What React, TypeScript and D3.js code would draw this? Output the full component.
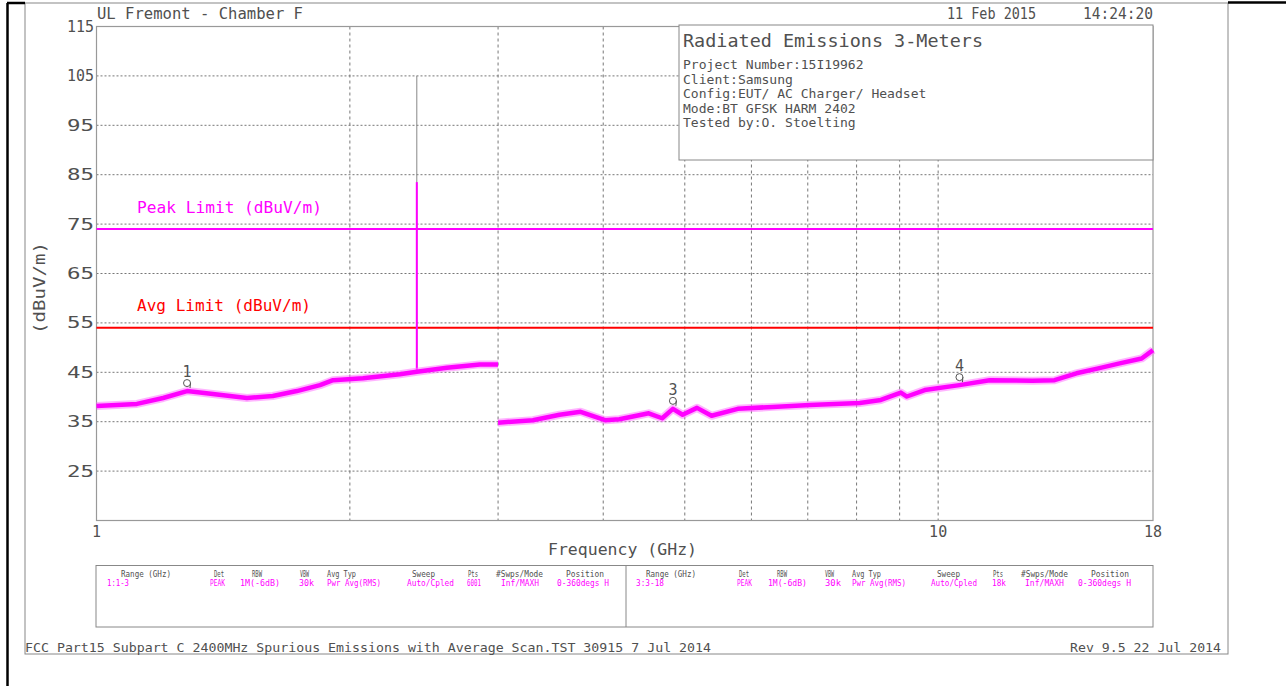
import React from "react";
import * as d3 from "d3";

// ---------- data ----------
const yTicks = [115, 105, 95, 85, 75, 65, 55, 45, 35, 25];
const xGrid = [2, 3, 4, 5, 6, 7, 8, 9, 10];
const xTickLabels = [1, 10, 18];

const band1Freq = [1.0, 1.117, 1.2, 1.281, 1.375, 1.509, 1.62, 1.73, 1.843, 1.91, 2.073, 2.293, 2.402, 2.608, 2.854, 3.0];
const band1Level = [38.2, 38.6, 39.8, 41.2, 40.6, 39.8, 40.2, 41.2, 42.4, 43.4, 43.8, 44.6, 45.1, 45.9, 46.6, 46.6];

const band2Freq = [3.0, 3.3, 3.55, 3.76, 4.02, 4.18, 4.53, 4.7, 4.84, 4.97, 5.17, 5.38, 5.78, 6.36, 7.04, 8.07, 8.55, 9.03, 9.18, 9.64, 10.6, 11.51, 12.95, 13.75, 14.6, 15.5, 16.43, 17.45, 18];
const band2Level = [34.8, 35.3, 36.4, 37.0, 35.3, 35.5, 36.7, 35.7, 37.6, 36.4, 37.8, 36.2, 37.6, 38.0, 38.4, 38.8, 39.4, 40.9, 40.1, 41.4, 42.4, 43.4, 43.3, 43.4, 44.8, 45.8, 46.8, 47.8, 49.5];

const spikeFreq = 2.402;
const spikePeakMagenta = 83.5;
const spikePeakGray = 105;

const peakLimit = 74;
const avgLimit = 54;

const markerIds = ["1", "3", "4"];
const markerFreq = [1.281, 4.84, 10.6];
const markerLevel = [41.2, 37.6, 42.4];

const tableHeaders = ["Range (GHz)", "Det", "RBW", "VBW", "Avg Typ", "Sweep", "Pts", "#Swps/Mode", "Position"];
const tableRow1 = ["1:1-3", "PEAK", "1M(-6dB)", "30k", "Pwr Avg(RMS)", "Auto/Cpled", "6001", "Inf/MAXH", "0-360degs H"];
const tableRow2 = ["3:3-18", "PEAK", "1M(-6dB)", "30k", "Pwr Avg(RMS)", "Auto/Cpled", "18k", "Inf/MAXH", "0-360degs H"];

const infoLines = [
  "Project Number:15I19962",
  "Client:Samsung",
  "Config:EUT/ AC Charger/ Headset",
  "Mode:BT GFSK HARM 2402",
  "Tested by:O. Stoelting",
];

// ---------- layout ----------
const W = 1286;
const H = 686;
const PL = 96.5, PR = 1153, PT = 26.5, PB = 520.5;
const FONT = "'DejaVu Sans Mono', monospace";
const TXT = "#505050";
const MAG = "#ff00ff";

// table column layout (left half absolute x, widths)
const hdrX = [121, 214, 252, 300, 327, 412, 468, 496, 566];
const hdrW = [50, 10, 10, 9, 29, 23, 10, 47, 38];
const valX1 = [107, 210, 240, 299, 327, 407, 467, 501, 557];
const valW1 = [22, 15, 40, 15, 54, 47, 14, 38, 52];
const valX2 = [636, 737, 768, 825, 852, 931, 992, 1025, 1078];
const valW2 = [28, 15, 39, 16, 54, 46, 14, 39, 53];
const HALF_SHIFT = 525;

function T(props: any) {
  const { x, y, w, size = 14, fill = TXT, anchor = "start", children, ...rest } = props;
  return (
    <text
      x={x}
      y={y}
      fontFamily={FONT}
      fontSize={size}
      fill={fill}
      textAnchor={anchor}
      {...(w ? { textLength: w, lengthAdjust: "spacingAndGlyphs" } : {})}
      {...rest}
    >
      {children}
    </text>
  );
}

export default function App() {
  const x = d3.scaleLog().domain([1, 18]).range([PL, PR]);
  const y = d3.scaleLinear().domain([15, 115]).range([PB, PT]);

  const line = d3
    .line<[number, number]>()
    .x((d) => x(d[0]))
    .y((d) => y(d[1]))
    .curve(d3.curveLinear);

  const b1 = band1Freq.map((f, i) => [f, band1Level[i]] as [number, number]);
  const b2 = band2Freq.map((f, i) => [f, band2Level[i]] as [number, number]);
  const spikeBase = band1Level[band1Freq.indexOf(spikeFreq)];

  return (
    <div style={{ position: "fixed", left: 0, top: 0, width: W, height: H, background: "#fff" }}>
      <svg width={W} height={H} viewBox={`0 0 ${W} ${H}`} style={{ display: "block" }}>
        <rect x={0} y={0} width={W} height={H} fill="#fff" />
        {/* page frame */}
        <rect x={25} y={3} width={1228 - 25} height={654 - 3} fill="none" stroke="#888" strokeWidth={1} />
        <line x1={7.5} y1={3} x2={7.5} y2={H} stroke="#000" strokeWidth={2.5} />
        <line x1={7} y1={3} x2={25} y2={3} stroke="#000" strokeWidth={2.5} />
        <line x1={1228} y1={2.5} x2={W} y2={2.5} stroke="#000" strokeWidth={2.5} />

        {/* grid */}
        {yTicks
          .filter((v) => v !== 115)
          .map((v) => (
            <line key={"gy" + v} x1={PL} x2={PR} y1={y(v)} y2={y(v)} stroke="#777" strokeWidth={1} strokeDasharray="2,2" />
          ))}
        {xGrid.map((f) => (
          <line key={"gx" + f} x1={x(f)} x2={x(f)} y1={PT} y2={PB} stroke="#777" strokeWidth={1} strokeDasharray="3,3" />
        ))}

        {/* plot border */}
        <rect x={PL} y={PT} width={PR - PL} height={PB - PT} fill="none" stroke="#999" strokeWidth={1.2} />

        {/* y tick labels */}
        {yTicks.map((v) => (
          <T key={"yl" + v} x={94} y={y(v) + 5.5} size={15} anchor="end" w={27}>
            {v}
          </T>
        ))}
        {/* x tick labels */}
        {xTickLabels.map((f) => (
          <T key={"xl" + f} x={x(f)} y={537} size={15} anchor="middle">
            {f}
          </T>
        ))}
        <T x={548} y={555} size={16} w={149}>
          Frequency (GHz)
        </T>
        <T x={0} y={0} size={16} w={92} transform="translate(45,334) rotate(-90)">
          (dBuV/m)
        </T>

        {/* header texts */}
        <T x={97} y={19} size={15.5} w={206}>
          UL Fremont - Chamber F
        </T>
        <T x={947} y={19} size={15.5} w={89}>
          11 Feb 2015
        </T>
        <T x={1083} y={19} size={15.5} w={70}>
          14:24:20
        </T>

        {/* limit lines */}
        <line x1={PL} x2={PR} y1={y(peakLimit)} y2={y(peakLimit)} stroke={MAG} strokeWidth={2} />
        <line x1={PL} x2={PR} y1={y(avgLimit)} y2={y(avgLimit)} stroke="#ff0000" strokeWidth={2} />
        <T x={137} y={213} size={16} fill={MAG} w={185}>
          Peak Limit (dBuV/m)
        </T>
        <T x={137} y={311} size={16} fill="#ff0000" w={174}>
          Avg Limit (dBuV/m)
        </T>

        {/* spike */}
        <line x1={x(spikeFreq)} x2={x(spikeFreq)} y1={y(spikePeakGray)} y2={y(spikeBase)} stroke="#888" strokeWidth={1} />
        <line x1={x(spikeFreq)} x2={x(spikeFreq)} y1={y(spikePeakMagenta)} y2={y(spikeBase)} stroke={MAG} strokeWidth={2} />

        {/* traces */}
        <path d={line(b1) || ""} fill="none" stroke="#ff77ff" strokeWidth={8} strokeLinejoin="round" opacity={0.55} />
        <path d={line(b1) || ""} fill="none" stroke={MAG} strokeWidth={4.5} strokeLinejoin="round" />
        <path d={line(b2) || ""} fill="none" stroke="#ff77ff" strokeWidth={8} strokeLinejoin="round" opacity={0.55} />
        <path d={line(b2) || ""} fill="none" stroke={MAG} strokeWidth={4.5} strokeLinejoin="round" />

        {/* markers */}
        {markerIds.map((id, i) => {
          const mx = x(markerFreq[i]);
          const my = y(markerLevel[i]);
          return (
            <g key={"m" + id}>
              <circle cx={mx} cy={my - 8} r={3.5} fill="none" stroke="#555" strokeWidth={1} />
              <line x1={mx + 3.5} x2={mx + 3} y1={my - 8} y2={my - 3} stroke="#555" strokeWidth={1} />
              <T x={mx} y={my - 14} size={15} anchor="middle">
                {id}
              </T>
            </g>
          );
        })}

        {/* info box */}
        <rect x={679} y={25} width={1153 - 679} height={160 - 25} fill="#fff" stroke="#888" strokeWidth={1} />
        <T x={683} y={47} size={18.5} w={300}>
          Radiated Emissions 3-Meters
        </T>
        {infoLines.map((s, i) => (
          <T key={"info" + i} x={683} y={69 + i * 14.6} size={13} w={s.length * 7.85}>
            {s}
          </T>
        ))}

        {/* settings table */}
        <rect x={96} y={565.5} width={1153 - 96} height={627 - 565.5} fill="none" stroke="#888" strokeWidth={1} />
        <line x1={626} x2={626} y1={565.5} y2={627} stroke="#888" strokeWidth={1} />
        {tableHeaders.map((h, i) => (
          <g key={"th" + i}>
            <T x={hdrX[i]} y={577} size={9} w={hdrW[i]}>
              {h}
            </T>
            <T x={hdrX[i] + HALF_SHIFT} y={577} size={9} w={hdrW[i]}>
              {h}
            </T>
          </g>
        ))}
        {tableRow1.map((s, i) => (
          <T key={"r1" + i} x={valX1[i]} y={586} size={9} fill={MAG} w={valW1[i]}>
            {s}
          </T>
        ))}
        {tableRow2.map((s, i) => (
          <T key={"r2" + i} x={valX2[i]} y={586} size={9} fill={MAG} w={valW2[i]}>
            {s}
          </T>
        ))}

        {/* footer */}
        <T x={25} y={652} size={13} w={686}>
          FCC Part15 Subpart C 2400MHz Spurious Emissions with Average Scan.TST 30915  7 Jul 2014
        </T>
        <T x={1070} y={652} size={13} w={151}>
          Rev 9.5 22 Jul 2014
        </T>
      </svg>
    </div>
  );
}
